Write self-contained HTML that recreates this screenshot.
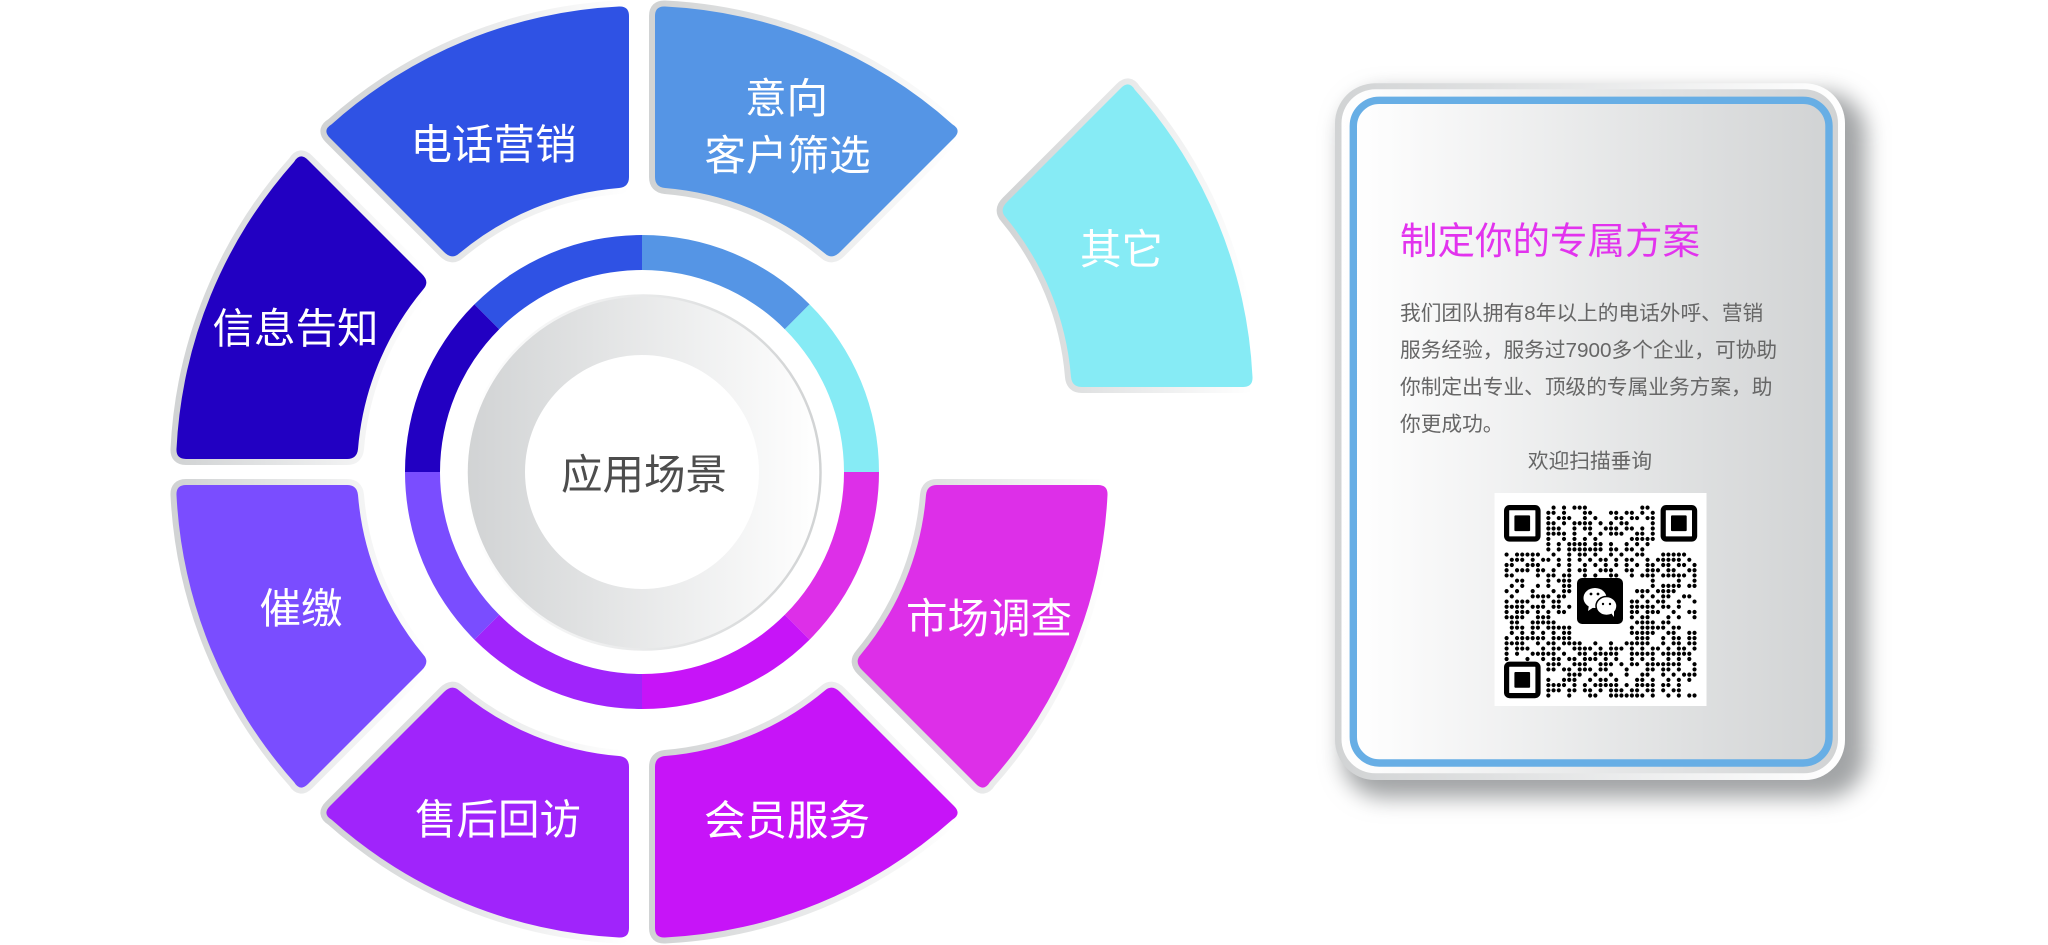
<!DOCTYPE html>
<html lang="zh"><head><meta charset="utf-8"><title>应用场景</title>
<style>html,body{margin:0;padding:0;background:#fff;width:2048px;height:945px;overflow:hidden}svg{display:block}
text{font-family:"Liberation Sans","Noto Sans CJK SC",sans-serif}
.w{fill:#fff;font-size:41.5px;font-weight:400;text-anchor:middle}
.p{fill:#666;font-size:20.7px;font-weight:400}
.s{stroke-width:12;stroke:url(#g);stroke-linejoin:round;paint-order:stroke}
</style></head><body>
<svg width="2048" height="945" viewBox="0 0 2048 945" xmlns="http://www.w3.org/2000/svg">
<defs>
<linearGradient id="g" x1="0" y1="0" x2="1" y2="0"><stop offset="0" stop-color="#d1d3d4"/><stop offset="1" stop-color="#fff"/></linearGradient>
<linearGradient id="r" x1="0" y1="0" x2="1" y2="0"><stop offset="0" stop-color="#fff"/><stop offset="1" stop-color="#d1d3d4"/></linearGradient>
<filter id="b" x="-15%" y="-15%" width="130%" height="130%"><feGaussianBlur stdDeviation="11"/></filter>
</defs>

<!-- sectors -->
<path class="s" fill="#2f52e4" d="M629 177L629 16Q629 6 619 6.5A466 466 0 0 0 331.7 124.2Q322 130 330 138L444 252Q452 260 459.4 253.3A285 285 0 0 1 619 188Q629 187 629 177Z"/>
<path class="s" fill="#5595e5" d="M655 177L655 16Q655 6 665 6.5A466 466 0 0 1 952.3 124.2Q962 130 954 138L840 252Q832 260 824.6 253.3A285 285 0 0 0 665 188Q655 187 655 177Z"/>
<path class="s" fill="#2200c2" d="M347 459L186 459Q176 459 176.5 449A466 466 0 0 1 294.2 161.7Q300 152 308 160L422 274Q430 282 423.3 289.4A285 285 0 0 0 358 449Q357 459 347 459Z"/>
<path class="s" fill="#7a4dff" d="M347 485L186 485Q176 485 176.5 495A466 466 0 0 0 294.2 782.3Q300 792 308 784L422 670Q430 662 423.3 654.6A285 285 0 0 1 358 495Q357 485 347 485Z"/>
<path class="s" fill="#a024fb" d="M629 767L629 928Q629 938 619 937.5A466 466 0 0 1 331.7 819.8Q322 814 330 806L444 692Q452 684 459.4 690.7A285 285 0 0 0 619 756Q629 757 629 767Z"/>
<path class="s" fill="#c714f8" d="M655 767L655 928Q655 938 665 937.5A466 466 0 0 0 952.3 819.8Q962 814 954 806L840 692Q832 684 824.6 690.7A285 285 0 0 1 665 756Q655 757 655 767Z"/>
<path class="s" fill="#dd2fe8" d="M937 485L1098 485Q1108 485 1107.5 495A466 466 0 0 1 989.8 782.3Q984 792 976 784L862 670Q854 662 860.7 654.6A285 285 0 0 0 926 495Q927 485 937 485Z"/>
<path class="s" fill="#86ebf5" transform="translate(-2 0)" d="M1084 387L1245 387Q1255 387 1254.5 377A466 466 0 0 0 1136.8 89.7Q1131 80 1123 88L1009 202Q1001 210 1007.7 217.4A285 285 0 0 1 1073 377Q1074 387 1084 387Z"/>

<!-- ring -->
<path fill="#2f52e4" d="M642 235A237 237 0 0 0 474.4 304.4L499.2 329.2A202 202 0 0 1 642 270Z"/>
<path fill="#5595e5" d="M642 235A237 237 0 0 1 809.6 304.4L784.8 329.2A202 202 0 0 0 642 270Z"/>
<path fill="#86ebf5" d="M809.6 304.4A237 237 0 0 1 879 472L844 472A202 202 0 0 0 784.8 329.2Z"/>
<path fill="#dd2fe8" d="M879 472A237 237 0 0 1 809.6 639.6L784.8 614.8A202 202 0 0 0 844 472Z"/>
<path fill="#c714f8" d="M809.6 639.6A237 237 0 0 1 642 709L642 674A202 202 0 0 0 784.8 614.8Z"/>
<path fill="#a024fb" d="M642 709A237 237 0 0 1 474.4 639.6L499.2 614.8A202 202 0 0 0 642 674Z"/>
<path fill="#7a4dff" d="M474.4 639.6A237 237 0 0 1 405 472L440 472A202 202 0 0 0 499.2 614.8Z"/>
<path fill="#2200c2" d="M405 472A237 237 0 0 1 474.4 304.4L499.2 329.2A202 202 0 0 0 440 472Z"/>

<!-- hub -->
<circle cx="643.5" cy="472.5" r="177" fill="url(#g)" stroke="url(#r)" stroke-width="2.5"/>
<circle cx="642" cy="472" r="117" fill="#fff"/>

<!-- sector labels -->
<text class="w" x="493.5" y="159">电话营销</text>
<text class="w" x="295.5" y="343">信息告知</text>
<text class="w" x="786.5" y="113">意向</text>
<text class="w" x="787.5" y="170">客户筛选</text>
<text class="w" x="1121.5" y="264">其它</text>
<text class="w" x="301" y="623">催缴</text>
<text class="w" x="498" y="834">售后回访</text>
<text class="w" x="787" y="835">会员服务</text>
<text class="w" x="989" y="633">市场调查</text>
<text class="w" x="644" y="489" style="fill:#4d4d4d">应用场景</text>

<!-- card -->
<rect x="1342" y="92" width="524" height="706" rx="42" fill="#a2a4a6" filter="url(#b)"/>
<rect x="1335" y="83.3" width="510" height="696.7" rx="40" fill="url(#g)"/>
<rect x="1341.5" y="89.3" width="496.5" height="684" rx="34" fill="url(#r)"/>
<rect x="1353.3" y="100.3" width="475.7" height="662.7" rx="26" fill="url(#r)" stroke="#67aee5" stroke-width="7.4"/>

<text x="1400" y="254" style="fill:#e233ee;font-size:37.5px;font-weight:400">制定你的专属方案</text>
<text class="p" x="1400" y="320">我们团队拥有8年以上的电话外呼、营销</text>
<text class="p" x="1400" y="357">服务经验，服务过7900多个企业，可协助</text>
<text class="p" x="1400" y="394">你制定出专业、顶级的专属业务方案，助</text>
<text class="p" x="1400" y="431">你更成功。</text>
<text class="p" x="1590" y="468" text-anchor="middle">欢迎扫描垂询</text>

<!-- QR -->
<rect x="1494.5" y="493" width="212" height="213" fill="#fff"/>
<g fill="none" stroke="#000" stroke-width="5.2">
<rect x="1506.6" y="507.6" width="31.4" height="31.4" rx="3"/>
<rect x="1663.2" y="507.6" width="31.4" height="31.4" rx="3"/>
<rect x="1506.6" y="664.2" width="31.4" height="31.4" rx="3"/>
</g>
<rect x="1514.4" y="515.4" width="15.7" height="15.7" rx="1"/>
<rect x="1671" y="515.4" width="15.7" height="15.7" rx="1"/>
<rect x="1514.4" y="672" width="15.7" height="15.7" rx="1"/>
<g transform="translate(1506.6 507.6) scale(5.22)"><path fill="none" stroke="#000" stroke-width=".8" stroke-linecap="round" d="
M9 0h0M11 0h0M13 0h0M14 0h0M15 0h0M26 0h0M27 0h0
M8 1h0M9 1h0M11 1h0M15 1h0M16 1h0M20 1h0M21 1h0M23 1h0M24 1h0M26 1h0M28 1h0
M8 2h0M10 2h0M11 2h0M12 2h0M15 2h0M17 2h0M21 2h0M22 2h0M24 2h0M25 2h0M27 2h0M28 2h0
M8 3h0M9 3h0M11 3h0M13 3h0M14 3h0M15 3h0M16 3h0M18 3h0M20 3h0M22 3h0M23 3h0M28 3h0
M8 4h0M9 4h0M10 4h0M13 4h0M15 4h0M16 4h0M19 4h0M20 4h0M21 4h0M23 4h0M24 4h0M26 4h0M28 4h0
M8 5h0M9 5h0M10 5h0M11 5h0M13 5h0M16 5h0M18 5h0M20 5h0M21 5h0M22 5h0M25 5h0M26 5h0M28 5h0
M8 6h0M11 6h0M13 6h0M15 6h0M17 6h0M24 6h0M25 6h0M26 6h0M27 6h0M28 6h0
M8 7h0M10 7h0M12 7h0M13 7h0M14 7h0M15 7h0M17 7h0M18 7h0M20 7h0M23 7h0M25 7h0M27 7h0
M8 8h0M10 8h0M12 8h0M13 8h0M14 8h0M15 8h0M16 8h0M17 8h0M18 8h0M20 8h0M21 8h0M23 8h0M24 8h0M26 8h0
M0 9h0M2 9h0M3 9h0M4 9h0M5 9h0M6 9h0M9 9h0M12 9h0M14 9h0M15 9h0M17 9h0M20 9h0M22 9h0M25 9h0M26 9h0M30 9h0M31 9h0M32 9h0M33 9h0M34 9h0
M1 10h0M2 10h0M3 10h0M5 10h0M7 10h0M8 10h0M10 10h0M12 10h0M14 10h0M16 10h0M18 10h0M19 10h0M21 10h0M23 10h0M24 10h0M27 10h0M29 10h0M30 10h0M31 10h0M32 10h0M33 10h0M35 10h0
M0 11h0M1 11h0M4 11h0M5 11h0M6 11h0M10 11h0M12 11h0M15 11h0M17 11h0M19 11h0M21 11h0M23 11h0M25 11h0M27 11h0M28 11h0M30 11h0M31 11h0M33 11h0M34 11h0M36 11h0
M0 12h0M2 12h0M3 12h0M4 12h0M6 12h0M7 12h0M9 12h0M12 12h0M14 12h0M15 12h0M18 12h0M19 12h0M20 12h0M23 12h0M24 12h0M27 12h0M28 12h0M29 12h0M31 12h0M32 12h0M35 12h0M36 12h0
M0 13h0M1 13h0M6 13h0M8 13h0M9 13h0M11 13h0M12 13h0M15 13h0M17 13h0M20 13h0M21 13h0M24 13h0M26 13h0M27 13h0M28 13h0M30 13h0M31 13h0M32 13h0M33 13h0M34 13h0M36 13h0
M2 14h0M3 14h0M8 14h0M10 14h0M11 14h0M12 14h0M28 14h0M33 14h0M36 14h0
M1 15h0M3 15h0M6 15h0M8 15h0M11 15h0M12 15h0M28 15h0M30 15h0M31 15h0M32 15h0M33 15h0M35 15h0M36 15h0
M0 16h0M2 16h0M5 16h0M9 16h0M11 16h0M12 16h0M25 16h0M26 16h0M27 16h0M29 16h0M30 16h0M31 16h0M32 16h0
M1 17h0M5 17h0M6 17h0M7 17h0M8 17h0M10 17h0M11 17h0M26 17h0M28 17h0M30 17h0M31 17h0M34 17h0M35 17h0
M0 18h0M2 18h0M3 18h0M4 18h0M7 18h0M9 18h0M10 18h0M24 18h0M25 18h0M27 18h0M29 18h0M30 18h0M33 18h0M36 18h0
M0 19h0M1 19h0M2 19h0M3 19h0M5 19h0M6 19h0M7 19h0M9 19h0M10 19h0M12 19h0M24 19h0M25 19h0M26 19h0M27 19h0M28 19h0M30 19h0M31 19h0M33 19h0
M0 20h0M2 20h0M3 20h0M4 20h0M6 20h0M8 20h0M10 20h0M11 20h0M24 20h0M25 20h0M27 20h0M28 20h0M29 20h0M32 20h0M35 20h0M36 20h0
M0 21h0M1 21h0M2 21h0M3 21h0M6 21h0M7 21h0M8 21h0M24 21h0M26 21h0M27 21h0M31 21h0M33 21h0M36 21h0
M1 22h0M2 22h0M5 22h0M6 22h0M7 22h0M8 22h0M9 22h0M25 22h0M26 22h0M27 22h0M28 22h0M30 22h0M31 22h0
M1 23h0M2 23h0M3 23h0M5 23h0M6 23h0M8 23h0M9 23h0M10 23h0M11 23h0M12 23h0M24 23h0M26 23h0M27 23h0M28 23h0M29 23h0M30 23h0M32 23h0M33 23h0
M1 24h0M3 24h0M5 24h0M7 24h0M9 24h0M11 24h0M12 24h0M24 24h0M25 24h0M26 24h0M27 24h0M28 24h0M31 24h0M32 24h0M35 24h0M36 24h0
M0 25h0M2 25h0M3 25h0M4 25h0M5 25h0M6 25h0M7 25h0M9 25h0M10 25h0M11 25h0M12 25h0M25 25h0M26 25h0M27 25h0M30 25h0M32 25h0M33 25h0M35 25h0M36 25h0
M0 26h0M1 26h0M2 26h0M3 26h0M6 26h0M8 26h0M9 26h0M11 26h0M12 26h0M13 26h0M14 26h0M17 26h0M20 26h0M23 26h0M24 26h0M25 26h0M26 26h0M27 26h0M30 26h0M32 26h0M33 26h0M35 26h0M36 26h0
M0 27h0M2 27h0M3 27h0M4 27h0M7 27h0M9 27h0M10 27h0M13 27h0M14 27h0M15 27h0M16 27h0M18 27h0M20 27h0M21 27h0M22 27h0M24 27h0M26 27h0M28 27h0M29 27h0M31 27h0M33 27h0M34 27h0M36 27h0
M0 28h0M2 28h0M5 28h0M6 28h0M7 28h0M8 28h0M9 28h0M11 28h0M14 28h0M15 28h0M17 28h0M18 28h0M19 28h0M20 28h0M21 28h0M24 28h0M25 28h0M26 28h0M27 28h0M28 28h0M30 28h0M31 28h0M32 28h0M33 28h0M34 28h0M35 28h0
M0 29h0M4 29h0M7 29h0M9 29h0M10 29h0M12 29h0M13 29h0M15 29h0M16 29h0M17 29h0M19 29h0M21 29h0M24 29h0M26 29h0M28 29h0M31 29h0M33 29h0M35 29h0
M8 30h0M9 30h0M10 30h0M13 30h0M14 30h0M15 30h0M18 30h0M19 30h0M20 30h0M22 30h0M24 30h0M25 30h0M27 30h0M28 30h0M29 30h0M30 30h0M31 30h0M32 30h0M33 30h0M36 30h0
M8 31h0M9 31h0M11 31h0M12 31h0M14 31h0M15 31h0M16 31h0M18 31h0M19 31h0M23 31h0M27 31h0M28 31h0M30 31h0M31 31h0M33 31h0M36 31h0
M12 32h0M13 32h0M14 32h0M17 32h0M20 32h0M23 32h0M26 32h0M27 32h0M30 32h0M32 32h0M34 32h0M35 32h0M36 32h0
M8 33h0M11 33h0M12 33h0M13 33h0M16 33h0M18 33h0M19 33h0M21 33h0M25 33h0M26 33h0M28 33h0M31 33h0M33 33h0M35 33h0
M8 34h0M9 34h0M10 34h0M11 34h0M13 34h0M15 34h0M17 34h0M18 34h0M19 34h0M20 34h0M21 34h0M23 34h0M25 34h0M26 34h0M27 34h0M28 34h0M30 34h0M31 34h0M33 34h0
M8 35h0M9 35h0M10 35h0M12 35h0M13 35h0M15 35h0M16 35h0M18 35h0M20 35h0M21 35h0M22 35h0M24 35h0M25 35h0M27 35h0M28 35h0M30 35h0M32 35h0M33 35h0
M8 36h0M12 36h0M16 36h0M17 36h0M20 36h0M21 36h0M22 36h0M23 36h0M24 36h0M25 36h0M26 36h0M28 36h0M31 36h0M33 36h0M35 36h0M36 36h0
"/></g>
<rect x="1577" y="578" width="46" height="46" rx="5" fill="#000"/>
<ellipse cx="1595" cy="598" rx="11.5" ry="10" fill="#fff"/>
<path d="M1589 605l-1 6 6-4z" fill="#fff"/>
<ellipse cx="1606.5" cy="606" rx="10.5" ry="9.5" fill="#fff" stroke="#000" stroke-width="1.5"/>
<path d="M1611 613l3 4 0-6z" fill="#fff"/>
<circle cx="1591" cy="594" r="1.4" fill="#000"/><circle cx="1598" cy="594" r="1.4" fill="#000"/>
<circle cx="1603" cy="604" r="1.2" fill="#000"/><circle cx="1610" cy="604" r="1.2" fill="#000"/>
</svg>
</body></html>
